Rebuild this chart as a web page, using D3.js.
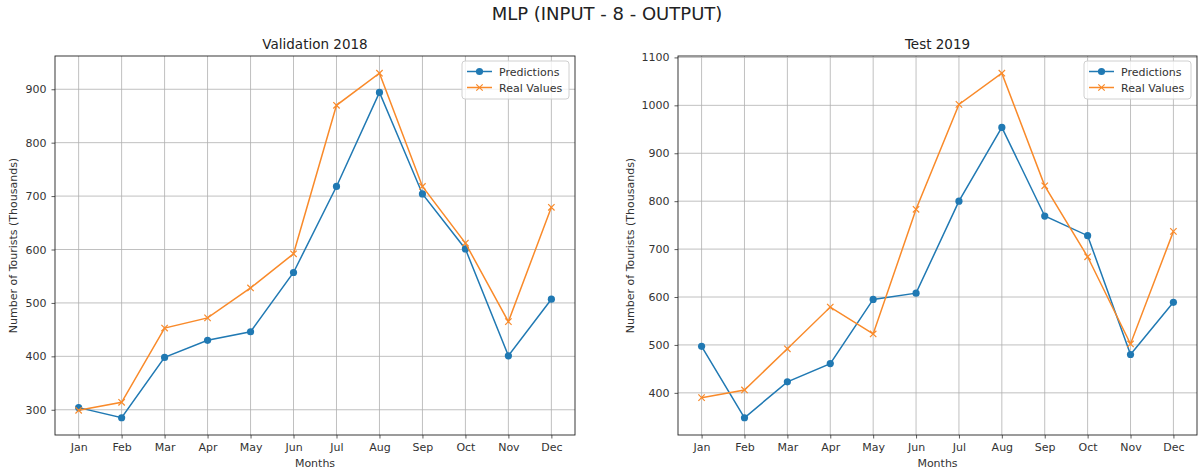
<!DOCTYPE html>
<html>
<head>
<meta charset="utf-8">
<script src="https://cdn.jsdelivr.net/npm/d3@7"></script>
<style>
  body { margin: 0; background: #fff; }
  svg { display: block; font-family: "DejaVu Sans", sans-serif; }
</style>
</head>
<body>
<svg id="chart" width="1200" height="471"></svg>
<script>
const months = ["Jan","Feb","Mar","Apr","May","Jun","Jul","Aug","Sep","Oct","Nov","Dec"];

const valPredictions = [304, 285, 398, 430, 446, 557, 718, 894, 704, 601, 401, 507];
const valReal        = [299, 314, 453, 472, 528, 592, 870, 930, 718, 612, 465, 679];

const testPredictions = [497, 348, 423, 461, 595, 608, 800, 954, 769, 728, 480, 589];
const testReal        = [390, 406, 492, 579, 523, 783, 1002, 1067, 832, 684, 502, 737];

const valTicks  = [300, 400, 500, 600, 700, 800, 900];
const testTicks = [400, 500, 600, 700, 800, 900, 1000, 1100];

const mainTitle = "MLP (INPUT - 8 - OUTPUT)";
const seriesNames = ["Predictions", "Real Values"];
const panels = [
  { title: "Validation 2018", pred: valPredictions, real: valReal, ticks: valTicks, left: 55, right: 575, labelOff: 38 },
  { title: "Test 2019", pred: testPredictions, real: testReal, ticks: testTicks, left: 678, right: 1197, labelOff: 44 }
];

const C_BLUE = "#2079b3", C_ORANGE = "#f98a2a";
const plotTop = 56, plotBottom = 435;
const svg = d3.select("#chart");

svg.append("text").attr("x", 607).attr("y", 20).attr("text-anchor", "middle")
  .attr("font-size", 18).attr("fill", "#222").text(mainTitle);

panels.forEach(p => {
  const idx = d3.range(months.length);
  const x = d3.scaleLinear().domain([-0.55, months.length - 1 + 0.55]).range([p.left, p.right]);
  const all = p.pred.concat(p.real);
  const [mn, mx] = d3.extent(all);
  const pad = (mx - mn) * 0.05;
  const y = d3.scaleLinear().domain([mn - pad, mx + pad]).range([plotBottom, plotTop]);

  const g = svg.append("g");

  // grid
  g.append("g").selectAll("line").data(idx).join("line")
    .attr("x1", d => x(d)).attr("x2", d => x(d)).attr("y1", plotTop).attr("y2", plotBottom)
    .attr("stroke", "#b0b0b0").attr("stroke-width", 0.8);
  g.append("g").selectAll("line").data(p.ticks).join("line")
    .attr("x1", p.left).attr("x2", p.right).attr("y1", d => y(d)).attr("y2", d => y(d))
    .attr("stroke", "#b0b0b0").attr("stroke-width", 0.8);

  // axes
  const xAxis = g.append("g").attr("transform", `translate(0,${plotBottom})`)
    .call(d3.axisBottom(x).tickValues(idx).tickFormat(i => months[i]).tickSize(3.5).tickPadding(5));
  const yAxis = g.append("g").attr("transform", `translate(${p.left},0)`)
    .call(d3.axisLeft(y).tickValues(p.ticks).tickFormat(d3.format("d")).tickSize(3.5).tickPadding(5));
  [xAxis, yAxis].forEach(a => {
    a.select(".domain").remove();
    a.selectAll("text").attr("font-size", 11).attr("fill", "#333").attr("font-family", "DejaVu Sans, sans-serif");
    a.selectAll("line").attr("stroke", "#333").attr("stroke-width", 0.8);
  });

  // frame
  g.append("rect").attr("x", p.left).attr("y", plotTop).attr("width", p.right - p.left).attr("height", plotBottom - plotTop)
    .attr("fill", "none").attr("stroke", "#222").attr("stroke-width", 0.9);

  const line = d3.line().x((d, i) => x(i)).y(d => y(d));

  // predictions
  g.append("path").datum(p.pred).attr("d", line).attr("fill", "none")
    .attr("stroke", C_BLUE).attr("stroke-width", 1.5);
  g.append("g").selectAll("circle").data(p.pred).join("circle")
    .attr("cx", (d, i) => x(i)).attr("cy", d => y(d)).attr("r", 3.6).attr("fill", C_BLUE);

  // real
  g.append("path").datum(p.real).attr("d", line).attr("fill", "none")
    .attr("stroke", C_ORANGE).attr("stroke-width", 1.5);
  const s = 3.2;
  g.append("g").selectAll("path").data(p.real).join("path")
    .attr("d", (d, i) => {
      const cx = x(i), cy = y(d);
      return `M${cx - s},${cy - s}L${cx + s},${cy + s}M${cx - s},${cy + s}L${cx + s},${cy - s}`;
    })
    .attr("stroke", C_ORANGE).attr("stroke-width", 1.2);

  // titles / labels
  const cx = (p.left + p.right) / 2;
  g.append("text").attr("x", cx).attr("y", 49).attr("text-anchor", "middle")
    .attr("font-size", 13.5).attr("fill", "#222").text(p.title);
  g.append("text").attr("x", cx).attr("y", 467).attr("text-anchor", "middle")
    .attr("font-size", 11).attr("fill", "#333").text("Months");
  g.append("text").attr("transform", `translate(${p.left - p.labelOff},${(plotTop + plotBottom) / 2}) rotate(-90)`)
    .attr("text-anchor", "middle").attr("font-size", 11).attr("fill", "#333")
    .text("Number of Tourists (Thousands)");

  // legend
  const lw = 107, lh = 38;
  const lx = p.right - 6 - lw, ly = 61;
  const lg = g.append("g").attr("transform", `translate(${lx},${ly})`);
  lg.append("rect").attr("width", lw).attr("height", lh).attr("rx", 3)
    .attr("fill", "#fff").attr("fill-opacity", 0.8).attr("stroke", "#d0d0d0").attr("stroke-width", 1);
  [0, 1].forEach(k => {
    const yy = 10.5 + k * 16;
    lg.append("line").attr("x1", 5).attr("x2", 30).attr("y1", yy).attr("y2", yy)
      .attr("stroke", k === 0 ? C_BLUE : C_ORANGE).attr("stroke-width", 1.5);
    if (k === 0) {
      lg.append("circle").attr("cx", 17.5).attr("cy", yy).attr("r", 3.6).attr("fill", C_BLUE);
    } else {
      lg.append("path").attr("d", `M${17.5 - s},${yy - s}L${17.5 + s},${yy + s}M${17.5 - s},${yy + s}L${17.5 + s},${yy - s}`)
        .attr("stroke", C_ORANGE).attr("stroke-width", 1.2);
    }
    lg.append("text").attr("x", 37).attr("y", yy + 4).attr("font-size", 11).attr("fill", "#333")
      .text(seriesNames[k]);
  });
});
</script>
</body>
</html>
